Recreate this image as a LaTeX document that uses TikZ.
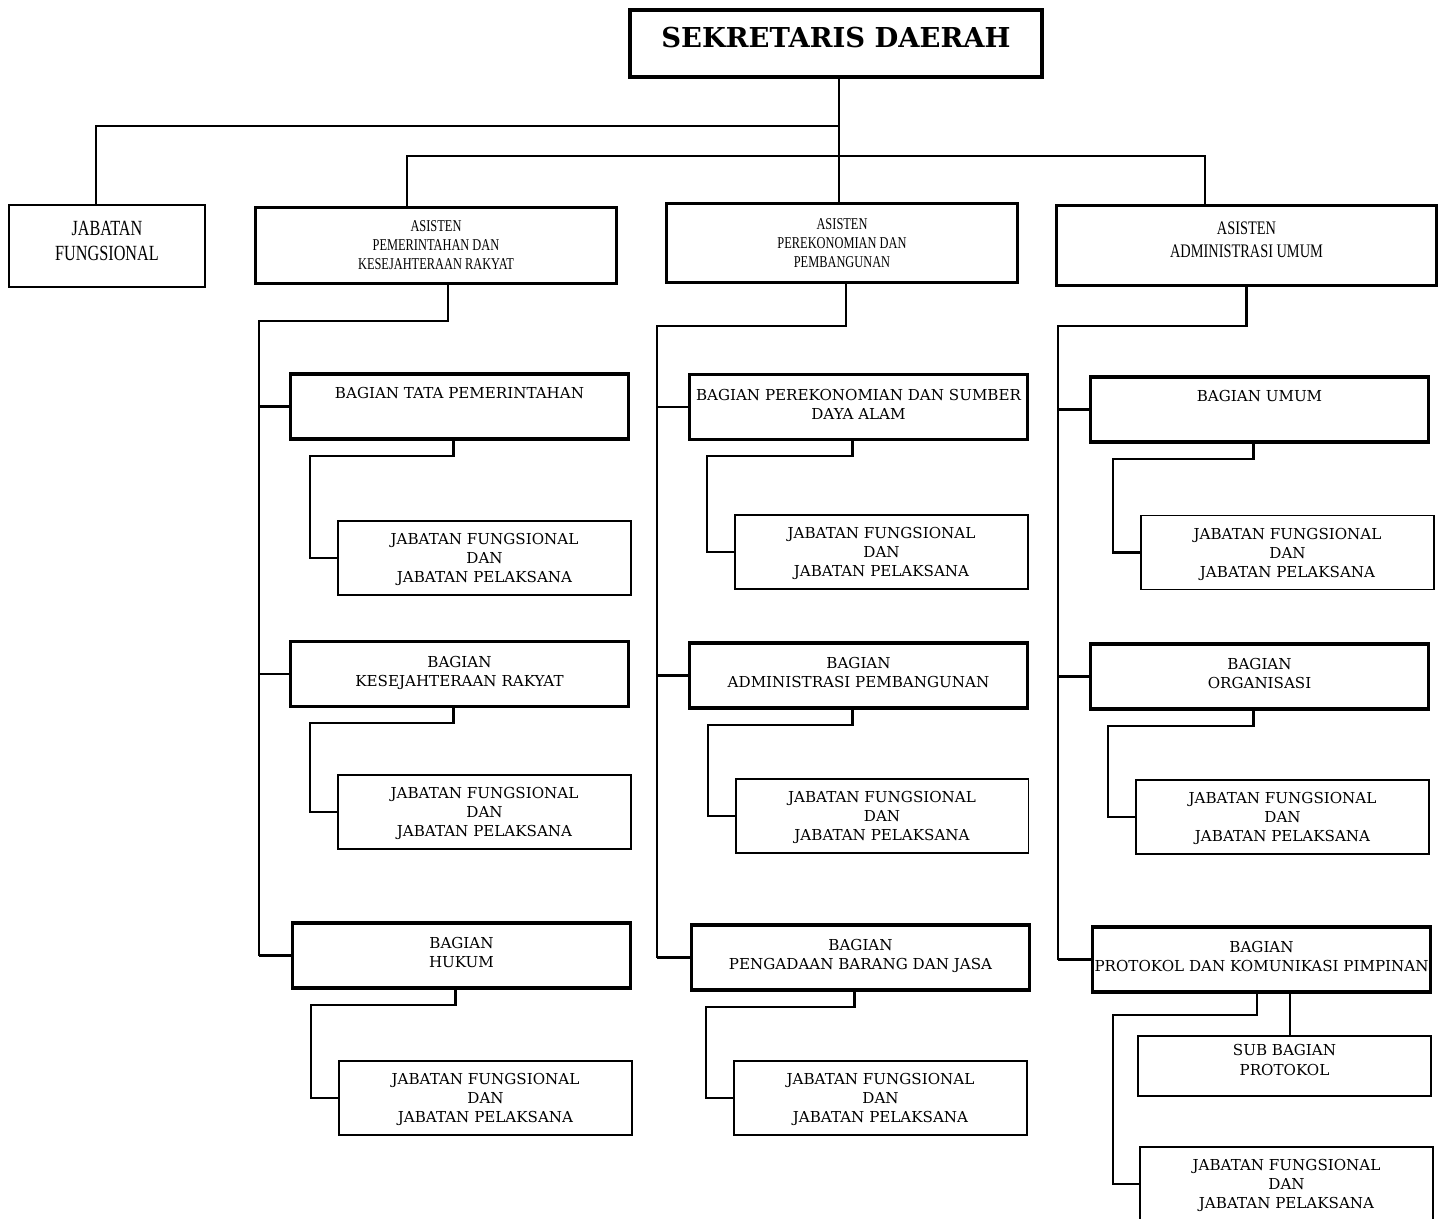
\documentclass[tikz,border=0pt]{standalone}
\usepackage{fontspec}
\setmainfont{DejaVu Serif}
\newfontfamily\narrowfont[FakeStretch=0.75]{Liberation Serif}

\begin{document}
\begin{tikzpicture}[
    x=0.02cm, y=-0.02cm,
    garis/.style={line width=1.2pt},
    kepala/.style={rectangle, draw, line width=2.6pt, minimum width=8.24cm, minimum height=1.34cm, font=\fontsize{15.6}{18}\selectfont\bfseries},
    asisten/.style={rectangle, draw, line width=2.2pt, align=center, font=\narrowfont\fontsize{9.4}{10.8}\selectfont},
    bagian/.style={rectangle, draw, line width=2.2pt, align=center, minimum width=6.76cm, minimum height=1.3cm, text depth=3.5pt, font=\fontsize{8.6}{10.8}\selectfont},
    fungsional/.style={rectangle, draw, line width=1.1pt, align=center, minimum width=5.86cm, minimum height=1.48cm, text depth=0pt, font=\fontsize{8.6}{10.8}\selectfont}
]
    \useasboundingbox (0,0) rectangle (1443,1219);

    % Pimpinan
    \node[kepala, text depth=6.8pt] (sekda) at (836,43.5) {SEKRETARIS DAERAH};
    \node[asisten, line width=1.1pt, text depth=5.7pt, font=\narrowfont\fontsize{12.3}{14.2}\selectfont, minimum width=3.92cm, minimum height=1.64cm] (jfungsi) at (107,246) {JABATAN\\FUNGSIONAL};
    \node[asisten, minimum width=7.22cm, minimum height=1.52cm] (asPem) at (436,245.5) {ASISTEN\\PEMERINTAHAN DAN\\KESEJAHTERAAN RAKYAT};
    \node[asisten, minimum width=7.02cm, minimum height=1.58cm] (asEko) at (842,243) {ASISTEN\\PEREKONOMIAN DAN\\PEMBANGUNAN};
    \node[asisten, text depth=6.8pt, font=\narrowfont\fontsize{10.9}{13}\selectfont, minimum width=7.6cm, minimum height=1.6cm] (asAdm) at (1246.5,245.5) {ASISTEN\\ADMINISTRASI UMUM};

    % Bagian
    \node[bagian, text depth=15.3pt] (bgTapem) at (459.5,406.5) {BAGIAN TATA PEMERINTAHAN};
    \node[bagian] (bgKesra) at (459.5,674) {BAGIAN\\KESEJAHTERAAN RAKYAT};
    \node[bagian] (bgHukum) at (461.5,955.5) {BAGIAN\\HUKUM};
    \node[bagian, inner xsep=1pt] (bgEko) at (858.5,407) {BAGIAN PEREKONOMIAN DAN SUMBER\\DAYA ALAM};
    \node[bagian] (bgAdpem) at (858.5,675.5) {BAGIAN\\ADMINISTRASI PEMBANGUNAN};
    \node[bagian] (bgPbj) at (860.5,957.5) {BAGIAN\\PENGADAAN BARANG DAN JASA};
    \node[bagian, text depth=15.3pt] (bgUmum) at (1259.5,409.5) {BAGIAN UMUM};
    \node[bagian] (bgOrg) at (1259.5,676.5) {BAGIAN\\ORGANISASI};
    \node[bagian, inner xsep=1pt] (bgProt) at (1261.5,959.5) {BAGIAN\\PROTOKOL DAN KOMUNIKASI PIMPINAN};

    % Jabatan fungsional dan pelaksana
    \node[fungsional] (jfTapem) at (484.5,558) {JABATAN FUNGSIONAL\\DAN\\JABATAN PELAKSANA};
    \node[fungsional] (jfKesra) at (484.5,812) {JABATAN FUNGSIONAL\\DAN\\JABATAN PELAKSANA};
    \node[fungsional] (jfHukum) at (485.5,1098) {JABATAN FUNGSIONAL\\DAN\\JABATAN PELAKSANA};
    \node[fungsional] (jfEko) at (881.5,552) {JABATAN FUNGSIONAL\\DAN\\JABATAN PELAKSANA};
    \node[fungsional] (jfAdpem) at (882,816) {JABATAN FUNGSIONAL\\DAN\\JABATAN PELAKSANA};
    \node[fungsional] (jfPbj) at (880.5,1098) {JABATAN FUNGSIONAL\\DAN\\JABATAN PELAKSANA};
    \node[fungsional] (jfUmum) at (1287.5,552.5) {JABATAN FUNGSIONAL\\DAN\\JABATAN PELAKSANA};
    \node[fungsional] (jfOrg) at (1282.5,817) {JABATAN FUNGSIONAL\\DAN\\JABATAN PELAKSANA};
    \node[fungsional, minimum height=1.2cm, text depth=6.8pt, font=\fontsize{8.6}{11.4}\selectfont] (subProt) at (1284.5,1066) {SUB BAGIAN\\PROTOKOL};
    \node[fungsional] (jfProt) at (1286.5,1184) {JABATAN FUNGSIONAL\\DAN\\JABATAN PELAKSANA};

    % Garis pimpinan
    \coordinate (kJf) at (96,126);
    \coordinate (kPem) at (407,156);
    \coordinate (kAdm) at (1205,156);
    \coordinate (kSekda) at ([xshift=0.06cm]sekda.south);
    \draw[garis] (kSekda) -- (kSekda |- asEko.north);
    \draw[garis] (kSekda |- kJf) -- (kJf) -- (kJf |- jfungsi.north);
    \draw[garis] (kPem |- asPem.north) -- (kPem) -- (kAdm) -- (kAdm |- asAdm.north);

    % Garis asisten ke bagian
    \coordinate (k1) at (259,321);
    \coordinate (k2) at (657,326);
    \coordinate (k3) at (1058,326);
    \draw[garis] ([xshift=0.24cm]asPem.south) |- (k1) -- (k1 |- bgHukum.west);
    \draw[garis] ([xshift=0.08cm]asEko.south) |- (k2) -- (k2 |- bgPbj.west);
    \draw[garis] (asAdm.south) |- (k3) -- (k3 |- bgProt.west);
    \foreach \b in {bgTapem,bgKesra,bgHukum}
        \draw[garis] (k1 |- \b.west) -- (\b.west);
    \foreach \b in {bgEko,bgAdpem,bgPbj}
        \draw[garis] (k2 |- \b.west) -- (\b.west);
    \foreach \b in {bgUmum,bgOrg,bgProt}
        \draw[garis] (k3 |- \b.west) -- (\b.west);

    % Garis bagian ke jabatan fungsional
    \foreach \b/\j in {bgTapem/jfTapem,bgKesra/jfKesra,bgHukum/jfHukum,bgEko/jfEko,bgAdpem/jfAdpem,bgPbj/jfPbj,bgUmum/jfUmum,bgOrg/jfOrg}
        \draw[garis] ([xshift=-0.12cm]\b.south) -- ++(0,15) -| ([xshift=-0.54cm]\j.west) -- (\j.west);
    \draw[garis] ([xshift=0.11cm]subProt.north) -- ([xshift=0.11cm]subProt.north |- bgProt.south);
    \draw[garis] ([xshift=-0.09cm]bgProt.south) -- ++(0,21) -| ([xshift=-0.52cm]jfProt.west) -- (jfProt.west);
\end{tikzpicture}
\end{document}
